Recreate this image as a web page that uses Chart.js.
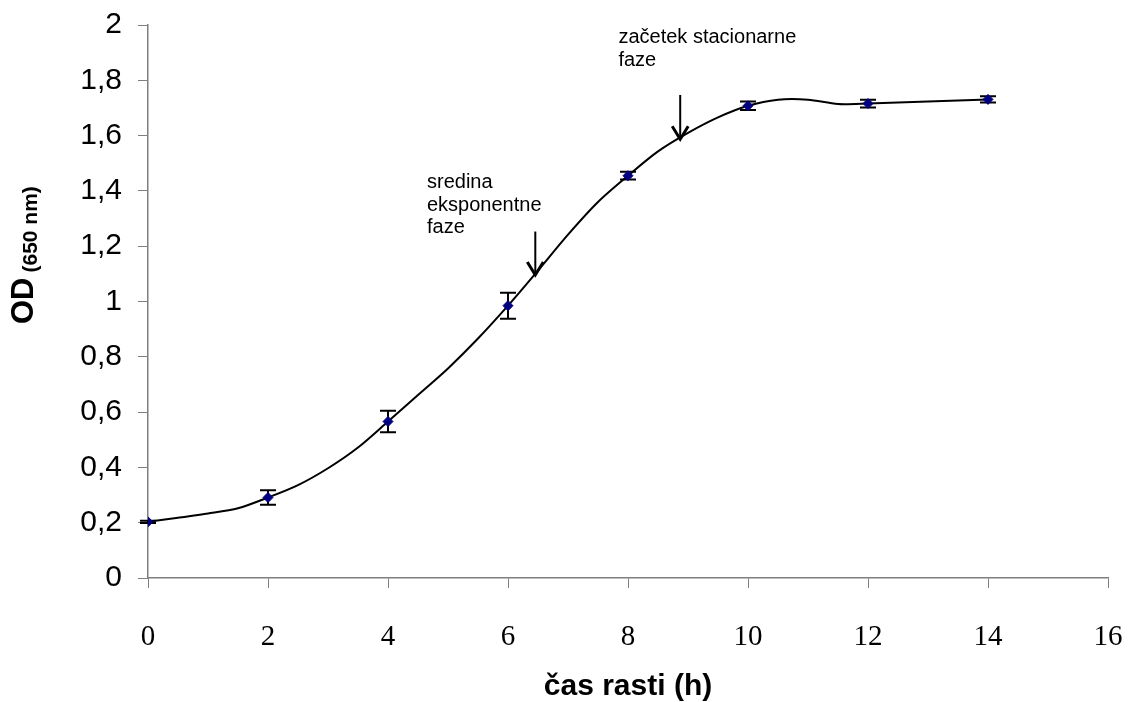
<!DOCTYPE html>
<html>
<head>
<meta charset="utf-8">
<script src="https://cdn.jsdelivr.net/npm/chart.js@4.4.1/dist/chart.umd.min.js"></script>
<style>
  html, body { margin: 0; padding: 0; background: #ffffff; }
  #wrap { width: 1129px; height: 702px; }
</style>
</head>
<body>
<div id="wrap"><canvas id="c" width="1129" height="702"></canvas></div>
<script>
// ---- data ----
const timeH   = [0, 2, 4, 6, 8, 10, 12, 14];
const odMean  = [0.203, 0.291, 0.566, 0.985, 1.455, 1.708, 1.716, 1.731];
const odErr   = [0.004, 0.026, 0.039, 0.047, 0.014, 0.015, 0.014, 0.011];

const curveX  = [0, 0.5, 1, 1.5, 2, 2.5, 3, 3.5, 4, 4.5, 5, 5.5, 6, 6.5, 7, 7.5, 8, 8.5, 9, 9.5, 10, 10.5, 11, 11.5, 12, 14];
const curveY  = [0.203, 0.218, 0.233, 0.252, 0.291, 0.336, 0.397, 0.472, 0.566, 0.662, 0.758, 0.866, 0.985, 1.112, 1.242, 1.36, 1.455, 1.543, 1.61, 1.666, 1.708, 1.73, 1.73, 1.714, 1.716, 1.731];

const xTickLabels = ['0', '2', '4', '6', '8', '10', '12', '14', '16'];
const yTickLabels = ['0', '0,2', '0,4', '0,6', '0,8', '1', '1,2', '1,4', '1,6', '1,8', '2'];

const noteTexts = [
  ['sredina', 'eksponentne', 'faze'],
  ['začetek stacionarne', 'faze']
];
// annotation anchors in data units: [text left x, first baseline y, arrow x, arrow top y, arrow tip y]
const noteAnchors = [
  [4.65, 1.41, 6.455, 1.253, 1.096],
  [7.84, 1.934, 8.87, 1.747, 1.587]
];

const xTitle = 'čas rasti (h)';
const yTitleMain = 'OD';
const yTitleSub = '(650 nm)';

// ---- plugins ----
const errorBars = {
  id: 'errorBars',
  beforeDatasetsDraw(chart) {
    const {ctx, scales: {x, y}} = chart;
    ctx.save();
    ctx.strokeStyle = '#000000';
    ctx.lineWidth = 2;
    for (let i = 0; i < timeH.length; i++) {
      const px = x.getPixelForValue(timeH[i]);
      const top = y.getPixelForValue(odMean[i] + odErr[i]);
      const bot = y.getPixelForValue(odMean[i] - odErr[i]);
      ctx.beginPath();
      ctx.moveTo(px, top); ctx.lineTo(px, bot);
      ctx.moveTo(px - 8, top); ctx.lineTo(px + 8, top);
      ctx.moveTo(px - 8, bot); ctx.lineTo(px + 8, bot);
      ctx.stroke();
    }
    ctx.restore();
  }
};

const notes = {
  id: 'notes',
  afterDraw(chart) {
    const {ctx, scales: {x, y}} = chart;
    ctx.save();
    ctx.fillStyle = '#000000';
    ctx.font = '20px "Liberation Sans", Arial, sans-serif';
    ctx.textBaseline = 'alphabetic';
    ctx.textAlign = 'left';
    noteTexts.forEach((lines, k) => {
      const a = noteAnchors[k];
      const tx = x.getPixelForValue(a[0]);
      const ty = y.getPixelForValue(a[1]);
      lines.forEach((t, j) => ctx.fillText(t, tx, ty + j * 22.6));
      const ax = x.getPixelForValue(a[2]);
      const at = y.getPixelForValue(a[3]);
      const tip = y.getPixelForValue(a[4]);
      ctx.strokeStyle = '#000000';
      ctx.lineWidth = 2;
      ctx.beginPath();
      ctx.moveTo(ax, at); ctx.lineTo(ax, tip - 2);
      ctx.stroke();
      ctx.beginPath();
      ctx.moveTo(ax - 8, tip - 13);
      ctx.lineTo(ax, tip);
      ctx.lineTo(ax + 8, tip - 13);
      ctx.lineWidth = 3;
      ctx.stroke();
    });

    // y-axis title with subscript
    ctx.save();
    ctx.translate(33, 324);
    ctx.rotate(-Math.PI / 2);
    ctx.font = 'bold 31px "Liberation Sans", Arial, sans-serif';
    ctx.fillText(yTitleMain, 0, 0);
    const w = ctx.measureText(yTitleMain).width;
    ctx.font = 'bold 21px "Liberation Sans", Arial, sans-serif';
    ctx.fillText(yTitleSub, w + 5, 4);
    ctx.restore();
    ctx.restore();
  }
};

const axisColor = '#7f7f7f';

new Chart(document.getElementById('c'), {
  type: 'scatter',
  data: {
    datasets: [
      {
        label: 'OD',
        data: timeH.map((t, i) => ({x: t, y: odMean[i]})),
        showLine: false,
        pointStyle: 'rectRot',
        pointRadius: 5,
        pointBackgroundColor: '#000080',
        pointBorderColor: '#000080',
        pointBorderWidth: 1
      },
      {
        label: 'curve',
        data: curveX.map((t, i) => ({x: t, y: curveY[i]})),
        showLine: true,
        borderColor: '#000000',
        borderWidth: 2,
        pointRadius: 0,
        tension: 0.3,
        fill: false
      }
    ]
  },
  options: {
    responsive: false,
    animation: false,
    devicePixelRatio: 1,
    layout: { padding: { left: 0, top: 25, right: 21, bottom: 0 } },
    plugins: {
      legend: { display: false },
      tooltip: { enabled: false },
      title: { display: false }
    },
    scales: {
      x: {
        type: 'linear',
        min: 0, max: 16,
        afterFit(scale) { scale.height = 124; scale.paddingLeft = 0; scale.paddingRight = 0; },
        afterBuildTicks(scale) { scale.ticks = xTickLabels.map(v => ({value: Number(v)})); },
        ticks: {
          stepSize: 2,
          color: '#000000',
          padding: 32,
          maxRotation: 0,
          font: { family: '"Liberation Serif", "Times New Roman", serif', size: 29 },
          callback: (v, i) => xTickLabels[i]
        },
        grid: { drawOnChartArea: false, drawTicks: true, tickLength: 10, color: axisColor, lineWidth: 1 },
        border: { display: true, color: axisColor, width: 1.5 },
        title: {
          display: true,
          text: xTitle,
          color: '#000000',
          font: { family: '"Liberation Sans", Arial, sans-serif', size: 30, weight: 'bold', lineHeight: 1 },
          padding: { top: 0, bottom: 0 }
        }
      },
      y: {
        type: 'linear',
        min: 0, max: 2,
        afterFit(scale) { scale.width = 148; scale.paddingTop = 0; scale.paddingBottom = 0; },
        afterBuildTicks(scale) { scale.ticks = yTickLabels.map((v, i) => ({value: i * 0.2})); },
        ticks: {
          stepSize: 0.2,
          color: '#000000',
          padding: 16,
          font: { family: '"Liberation Sans", Arial, sans-serif', size: 30 },
          callback: (v, i) => yTickLabels[i]
        },
        grid: { drawOnChartArea: false, drawTicks: true, tickLength: 10, color: axisColor, lineWidth: 1 },
        border: { display: true, color: axisColor, width: 1.5 }
      }
    }
  },
  plugins: [errorBars, notes]
});
</script>
</body>
</html>
